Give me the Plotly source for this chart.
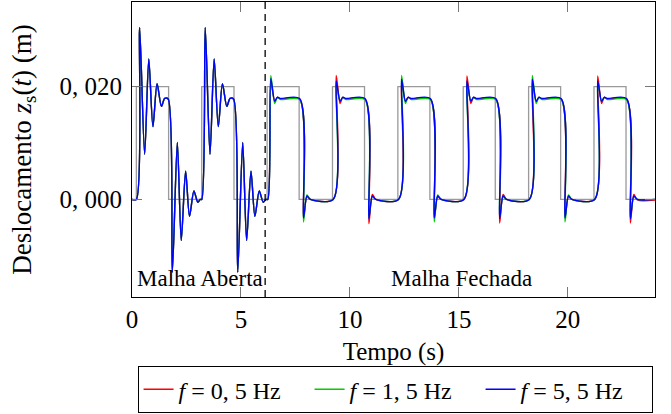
import plotly.graph_objects as go

# ---- data ----
# reference square wave (gray), open-loop + closed-loop
t_ref = [0.0, 0.2, 1.68, 3.2, 4.68, 6.2, 7.67, 9.2, 10.67, 12.2, 13.67,
         15.2, 16.67, 18.2, 19.67, 21.2, 22.67, 24.0]
z_ref = [0.0, 0.02, 0.0, 0.02, 0.0, 0.02, 0.0, 0.02, 0.0, 0.02, 0.0,
         0.02, 0.0, 0.02, 0.0, 0.02, 0.0, 0.0]

# open loop (all three responses practically coincide)
t_open = [0.0, 0.2, 0.35, 0.58, 0.77, 0.96, 1.15, 1.35, 1.50, 1.66,
          1.85, 2.08, 2.26, 2.46, 2.64, 2.84, 3.02, 3.13,
          3.2, 3.36, 3.58, 3.77, 3.96, 4.15, 4.35, 4.50, 4.66,
          4.85, 5.08, 5.26, 5.46, 5.64, 5.84, 6.02, 6.14]
z_open = [0.0, 0.0, 0.0305, 0.0080, 0.0249, 0.0129, 0.0205, 0.0165, 0.0179, 0.0178,
          -0.0129, 0.0101, -0.0073, 0.0050, -0.0030, 0.0015, -0.0005, 0.0,
          0.0, 0.0305, 0.0080, 0.0249, 0.0129, 0.0205, 0.0165, 0.0179, 0.0178,
          -0.0129, 0.0101, -0.0073, 0.0050, -0.0030, 0.0015, -0.0005, 0.0]

# closed loop
t_closed = [6.23, 6.37, 6.55, 6.67, 6.82, 7.69, 7.87, 8.03, 8.19,
            9.23, 9.37, 9.55, 9.67, 9.82, 10.69, 10.87, 11.03, 11.19,
            12.23, 12.37, 12.55, 12.67, 12.82, 13.69, 13.87, 14.03, 14.19,
            15.23, 15.37, 15.55, 15.67, 15.82, 16.69, 16.87, 17.03, 17.19,
            18.23, 18.37, 18.55, 18.67, 18.82, 19.69, 19.87, 20.03, 20.19,
            21.23, 21.37, 21.55, 21.67, 21.82, 22.69, 22.87, 23.03, 23.19,
            24.0]
z_red_closed = [0.0, 0.0208, 0.0174, 0.0181, 0.0178, 0.0178, -0.0033, 0.0005, 0.0,
                0.0, 0.0220, 0.0170, 0.0181, 0.0178, 0.0178, -0.0043, 0.0009, 0.0,
                0.0, 0.0205, 0.0174, 0.0181, 0.0178, 0.0178, -0.0032, 0.0005, 0.0,
                0.0, 0.0219, 0.0170, 0.0181, 0.0178, 0.0178, -0.0042, 0.0009, 0.0,
                0.0, 0.0205, 0.0174, 0.0181, 0.0178, 0.0178, -0.0032, 0.0005, 0.0,
                0.0, 0.0219, 0.0170, 0.0181, 0.0178, 0.0178, -0.0042, 0.0009, -0.0001,
                -0.0001]
z_green_closed = [0.0, 0.0220, 0.0170, 0.0181, 0.0177, 0.0177, -0.0040, 0.0008, 0.0,
                  0.0, 0.0205, 0.0174, 0.0181, 0.0177, 0.0177, -0.0032, 0.0005, 0.0,
                  0.0, 0.0220, 0.0170, 0.0181, 0.0177, 0.0177, -0.0040, 0.0008, 0.0,
                  0.0, 0.0206, 0.0174, 0.0181, 0.0177, 0.0177, -0.0032, 0.0005, 0.0,
                  0.0, 0.0220, 0.0170, 0.0181, 0.0177, 0.0177, -0.0040, 0.0008, 0.0,
                  0.0, 0.0206, 0.0174, 0.0181, 0.0177, 0.0177, -0.0031, 0.0005, 0.0,
                  0.0]
z_blue_closed = [0.0, 0.0214, 0.0174, 0.0181, 0.0179, 0.0179, -0.0033, 0.0006, 0.0,
                 0.0, 0.0210, 0.0174, 0.0181, 0.0179, 0.0179, -0.0034, 0.0006, 0.0,
                 0.0, 0.0213, 0.0174, 0.0181, 0.0179, 0.0179, -0.0033, 0.0006, 0.0,
                 0.0, 0.0210, 0.0174, 0.0181, 0.0179, 0.0179, -0.0034, 0.0006, 0.0,
                 0.0, 0.0213, 0.0174, 0.0181, 0.0179, 0.0179, -0.0033, 0.0006, 0.0,
                 0.0, 0.0210, 0.0174, 0.0181, 0.0179, 0.0179, -0.0034, 0.0006, 0.0,
                 0.0]

series_names = ["<i>f</i> = 0, 5 Hz", "<i>f</i> = 1, 5 Hz", "<i>f</i> = 5, 5 Hz"]
series_colors = ["#ff0000", "#00cc00", "#0000ff"]
series_closed = [z_red_closed, z_green_closed, z_blue_closed]

x_tickvals = [0, 5, 10, 15, 20]
x_ticktext = ["0", "5", "10", "15", "20"]
y_tickvals = [0.0, 0.02]
y_ticktext = ["0, 000", "0, 020"]
t_switch = 6.11
labels = [("Malha Aberta", 3.1), ("Malha Fechada", 15.1)]

FONT = "Liberation Serif, Times New Roman, serif"

fig = go.Figure()
fig.add_trace(go.Scatter(x=t_ref, y=z_ref, mode="lines", line=dict(color="#9a9a9a", width=1.3, shape="hv"),
                         showlegend=False, hoverinfo="skip"))
for name, color, zc in zip(series_names, series_colors, series_closed):
    fig.add_trace(go.Scatter(x=t_open + t_closed, y=z_open + zc, mode="lines", name=name,
                             line=dict(color=color, width=1.4, shape="spline", smoothing=0.8)))

fig.add_shape(type="line", xref="x", yref="paper", x0=t_switch, x1=t_switch, y0=0, y1=1,
              line=dict(color="black", width=1.3, dash="7px,5px"))
for txt, xpos in labels:
    fig.add_annotation(x=xpos, y=-0.0141, xref="x", yref="y", text=txt, showarrow=False,
                       font=dict(family=FONT, size=23, color="black"))

axis_common = dict(showline=True, linecolor="black", linewidth=1, mirror="ticks", ticks="inside",
                   ticklen=10, tickcolor="#777777", tickwidth=1, showgrid=False, zeroline=False,
                   tickfont=dict(family=FONT, size=25, color="black"))
fig.update_xaxes(range=[0, 24], tickvals=x_tickvals, ticktext=x_ticktext,
                 title=dict(text="Tempo (s)", font=dict(family=FONT, size=25, color="black"), standoff=10),
                 **axis_common)
fig.update_yaxes(range=[-0.0173, 0.035], tickvals=y_tickvals, ticktext=y_ticktext, ticklabelstandoff=4,
                 title=dict(text="Deslocamento <i>z</i><sub>s</sub>(<i>t</i>) (m)",
                            font=dict(family=FONT, size=27, color="black"), standoff=20),
                 **axis_common)

fig.update_layout(
    width=671, height=414,
    margin=dict(l=132, r=16, t=2, b=117, autoexpand=False),
    paper_bgcolor="white", plot_bgcolor="white",
    showlegend=True,
    legend=dict(orientation="h", x=0.503, xanchor="center", y=-0.2345, yanchor="top",
                bordercolor="black", borderwidth=1, bgcolor="white",
                font=dict(family=FONT, size=24, color="black"), entrywidth=126),
)

fig.write_html("out.html", config={"displayModeBar": False},
               post_script="document.body.style.margin='0';")
